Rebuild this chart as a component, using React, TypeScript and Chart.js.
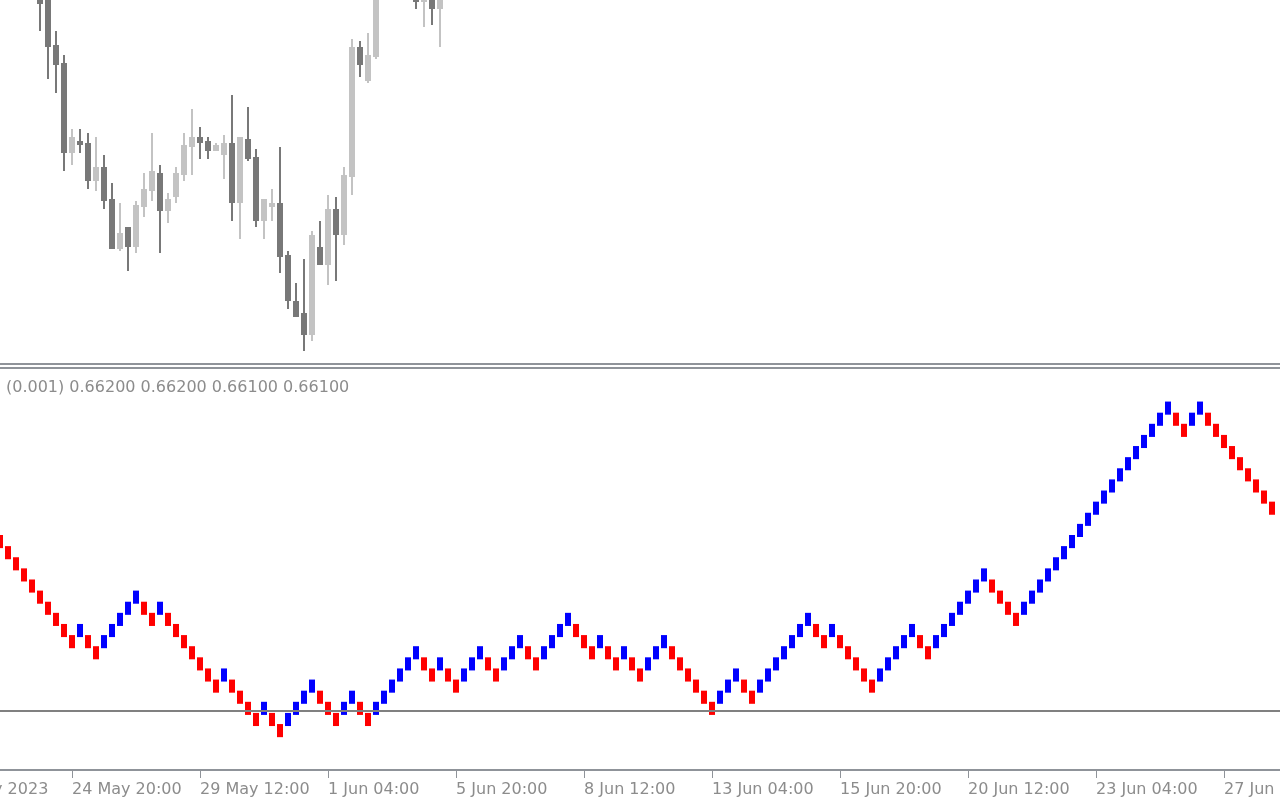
import React, { useEffect, useRef } from "react";
import { Chart, registerables } from "chart.js";

Chart.register(...registerables);

const FONT = "'DejaVu Sans', sans-serif";
const TEXT_COLOR = "#8c8c8c";
const FRAME_COLOR = "#8f9399";
const BEAR_COLOR = "#787878";
const BULL_COLOR = "#c3c3c3";
const UP_BRICK = "#0000ff";
const DOWN_BRICK = "#ff0000";

// ---- Top panel: H4 candles (bar index on the shared time axis) ----
const candleIdx = [
  5, 6, 7, 8, 9, 10, 11, 12, 13, 14, 15, 16, 17, 18, 19, 20, 21, 22, 23, 24, 25, 26,
  27, 28, 29, 30, 31, 32, 33, 34, 35, 36, 37, 38, 39, 40, 41, 42, 43, 44, 45, 46, 47,
  52, 53, 54, 55,
];
const candleOpen = [
  0.6825, 0.6802, 0.6755, 0.6737, 0.6647, 0.6659, 0.6657, 0.6619, 0.6633, 0.6601, 0.6551,
  0.6573, 0.6553, 0.6593, 0.6609, 0.6627, 0.6589, 0.6603, 0.6625, 0.6653, 0.6663, 0.6659,
  0.6649, 0.6645, 0.6657, 0.6597, 0.6661, 0.6643, 0.6579, 0.6593, 0.6597, 0.6545, 0.6499,
  0.6487, 0.6465, 0.6553, 0.6535, 0.6591, 0.6565, 0.6623, 0.6753, 0.6719, 0.6743,
  0.681, 0.6798, 0.6805, 0.6791,
];
const candleHigh = [
  0.683, 0.6808, 0.6769, 0.6745, 0.6671, 0.6671, 0.6667, 0.6663, 0.6645, 0.6617, 0.6597,
  0.6573, 0.6599, 0.6627, 0.6667, 0.6635, 0.6607, 0.6633, 0.6667, 0.6691, 0.6673, 0.6663,
  0.6657, 0.6665, 0.6705, 0.6663, 0.6693, 0.6651, 0.6601, 0.6611, 0.6653, 0.6549, 0.6517,
  0.6541, 0.6569, 0.6579, 0.6605, 0.6603, 0.6633, 0.6761, 0.6759, 0.6767, 0.682,
  0.6815, 0.681, 0.681, 0.6812,
];
const candleLow = [
  0.6769, 0.6721, 0.6707, 0.6629, 0.6635, 0.6647, 0.6611, 0.6609, 0.6591, 0.6551, 0.6549,
  0.6529, 0.6547, 0.6583, 0.6599, 0.6547, 0.6577, 0.6597, 0.6619, 0.6625, 0.6641, 0.6641,
  0.6649, 0.6621, 0.6579, 0.6561, 0.6639, 0.6573, 0.6561, 0.6579, 0.6527, 0.6491, 0.6483,
  0.6449, 0.6459, 0.6535, 0.6515, 0.6519, 0.6555, 0.6605, 0.6723, 0.6717, 0.6741,
  0.6791, 0.6773, 0.6775, 0.6753,
];
const candleClose = [
  0.6796, 0.6753, 0.6735, 0.6647, 0.6663, 0.6655, 0.6619, 0.6633, 0.6599, 0.6551, 0.6567,
  0.6553, 0.6595, 0.6611, 0.6629, 0.6589, 0.6601, 0.6627, 0.6655, 0.6663, 0.6657, 0.6649,
  0.6655, 0.6657, 0.6597, 0.6663, 0.6641, 0.6579, 0.6601, 0.6597, 0.6543, 0.6499, 0.6483,
  0.6465, 0.6565, 0.6535, 0.6591, 0.6565, 0.6625, 0.6753, 0.6735, 0.6745, 0.6815,
  0.6798, 0.6805, 0.6791, 0.6808,
];
const topPriceMin = 0.6437;
const topPriceMax = 0.68;

// ---- Bottom panel: Renko bricks (top price of each brick), brick size 0.001 ----
const brickSize = 0.001;
const renkoHigh = [
  0.659, 0.658, 0.657, 0.656, 0.655, 0.654, 0.653, 0.652, 0.651, 0.65,
  0.651, 0.65, 0.649, 0.65, 0.651, 0.652, 0.653, 0.654, 0.653, 0.652,
  0.653, 0.652, 0.651, 0.65, 0.649, 0.648, 0.647, 0.646, 0.647, 0.646,
  0.645, 0.644, 0.643, 0.644, 0.643, 0.642, 0.643, 0.644, 0.645, 0.646,
  0.645, 0.644, 0.643, 0.644, 0.645, 0.644, 0.643, 0.644, 0.645, 0.646,
  0.647, 0.648, 0.649, 0.648, 0.647, 0.648, 0.647, 0.646, 0.647, 0.648,
  0.649, 0.648, 0.647, 0.648, 0.649, 0.65, 0.649, 0.648, 0.649, 0.65,
  0.651, 0.652, 0.651, 0.65, 0.649, 0.65, 0.649, 0.648, 0.649, 0.648,
  0.647, 0.648, 0.649, 0.65, 0.649, 0.648, 0.647, 0.646, 0.645, 0.644,
  0.645, 0.646, 0.647, 0.646, 0.645, 0.646, 0.647, 0.648, 0.649, 0.65,
  0.651, 0.652, 0.651, 0.65, 0.651, 0.65, 0.649, 0.648, 0.647, 0.646,
  0.647, 0.648, 0.649, 0.65, 0.651, 0.65, 0.649, 0.65, 0.651, 0.652,
  0.653, 0.654, 0.655, 0.656, 0.655, 0.654, 0.653, 0.652, 0.653, 0.654,
  0.655, 0.656, 0.657, 0.658, 0.659, 0.66, 0.661, 0.662, 0.663, 0.664,
  0.665, 0.666, 0.667, 0.668, 0.669, 0.67, 0.671, 0.67, 0.669, 0.67,
  0.671, 0.67, 0.669, 0.668, 0.667, 0.666, 0.665, 0.664, 0.663, 0.662,
];
const levelLine = 0.64326;
const bottomPriceMin = 0.637957;
const bottomPriceMax = 0.674018;

// ---- Time axis ----
const timeTickIdx = [-7, 9, 25, 41, 57, 73, 89, 105, 121, 137, 153];
const timeTickLabels = [
  "22 May 2023",
  "24 May 20:00",
  "29 May 12:00",
  "1 Jun 04:00",
  "5 Jun 20:00",
  "8 Jun 12:00",
  "13 Jun 04:00",
  "15 Jun 20:00",
  "20 Jun 12:00",
  "23 Jun 04:00",
  "27 Jun 20:00",
];
const barsOnScreen = 160;

const indicatorLabel = "Renko (0.001) 0.66200 0.66200 0.66100 0.66100";

export default function App() {
  const topRef = useRef<HTMLCanvasElement>(null);
  const botRef = useRef<HTMLCanvasElement>(null);

  useEffect(() => {
    if (!topRef.current || !botRef.current) return;

    const candleColors = candleIdx.map((_, i) =>
      candleClose[i] >= candleOpen[i] ? BULL_COLOR : BEAR_COLOR
    );

    const topChart = new Chart(topRef.current, {
      type: "bar",
      data: {
        datasets: [
          {
            data: candleIdx.map((x, i) => ({ x, y: [candleLow[i], candleHigh[i]] })) as any,
            backgroundColor: candleColors,
            barThickness: 2,
            inflateAmount: 0,
            grouped: false,
            order: 2,
          } as any,
          {
            data: candleIdx.map((x, i) => ({ x, y: [candleOpen[i], candleClose[i]] })) as any,
            backgroundColor: candleColors,
            barThickness: 6,
            inflateAmount: 0,
            grouped: false,
            order: 1,
          } as any,
        ],
      },
      options: {
        responsive: false,
        animation: false,
        events: [],
        layout: { padding: 0 },
        plugins: { legend: { display: false }, tooltip: { enabled: false } },
        scales: {
          x: {
            type: "linear",
            min: 0,
            max: barsOnScreen,
            offset: false,
            grid: { offset: false },
            display: false,
          } as any,
          y: { type: "linear", min: topPriceMin, max: topPriceMax, display: false },
        },
      },
    });

    const brickColors = renkoHigh.map((h, i) =>
      i > 0 && h > renkoHigh[i - 1] ? UP_BRICK : DOWN_BRICK
    );

    const botChart = new Chart(botRef.current, {
      type: "bar",
      data: {
        datasets: [
          {
            type: "line",
            data: [
              { x: 0, y: levelLine },
              { x: barsOnScreen, y: levelLine },
            ],
            borderColor: "#808080",
            borderWidth: 2,
            pointRadius: 0,
            order: 0,
          } as any,
          {
            type: "bar",
            data: renkoHigh.map((h, i) => ({
              x: i,
              y: [Math.round((h - brickSize) * 1e6) / 1e6, h],
            })) as any,
            backgroundColor: brickColors,
            barThickness: 4,
            inflateAmount: 1,
            grouped: false,
            order: 1,
          } as any,
        ],
      },
      options: {
        responsive: false,
        animation: false,
        events: [],
        layout: { padding: 0 },
        plugins: { legend: { display: false }, tooltip: { enabled: false } },
        scales: {
          x: {
            type: "linear",
            min: 0,
            max: barsOnScreen,
            offset: false,
            position: "bottom",
            afterBuildTicks: (s: any) => {
              s.ticks = timeTickIdx.map((v) => ({ value: v }));
            },
            afterFit: (s: any) => {
              s.height = 30;
              s.paddingLeft = 0;
              s.paddingRight = 0;
            },
            ticks: {
              autoSkip: false,
              maxRotation: 0,
              minRotation: 0,
              align: "start",
              padding: 2,
              color: TEXT_COLOR,
              font: { family: FONT, size: 16 },
              callback: (_v: any, i: number) => timeTickLabels[i],
            },
            grid: {
              offset: false,
              drawOnChartArea: false,
              drawTicks: true,
              tickLength: 8,
              color: FRAME_COLOR,
              lineWidth: 1,
            },
            border: { display: true, color: FRAME_COLOR, width: 2 },
          } as any,
          y: {
            type: "linear",
            min: bottomPriceMin,
            max: bottomPriceMax,
            display: false,
          },
        },
      },
    });

    return () => {
      topChart.destroy();
      botChart.destroy();
    };
  }, []);

  return (
    <div
      style={{
        position: "absolute",
        left: 0,
        top: 0,
        width: 1280,
        height: 800,
        overflow: "hidden",
        background: "#ffffff",
      }}
    >
      <div style={{ position: "absolute", left: 0, top: 0, width: 1280, height: 363 }}>
        <canvas ref={topRef} width={1280} height={363} style={{ display: "block" }} />
      </div>
      <div
        style={{ position: "absolute", left: 0, top: 363, width: 1280, height: 2, background: FRAME_COLOR }}
      />
      <div
        style={{ position: "absolute", left: 0, top: 367, width: 1280, height: 2, background: FRAME_COLOR }}
      />
      <div style={{ position: "absolute", left: 0, top: 369, width: 1280, height: 431 }}>
        <canvas ref={botRef} width={1280} height={431} style={{ display: "block" }} />
      </div>
      <div
        style={{
          position: "absolute",
          left: -48,
          top: 377,
          fontFamily: FONT,
          fontSize: 16,
          lineHeight: "19px",
          color: TEXT_COLOR,
          whiteSpace: "nowrap",
        }}
      >
        {indicatorLabel}
      </div>
    </div>
  );
}
